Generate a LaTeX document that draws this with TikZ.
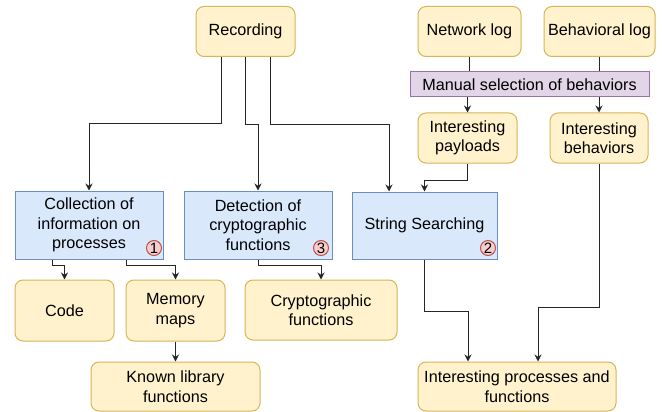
\documentclass[tikz,border=0pt]{standalone}
\usepackage{fontspec}
\setmainfont{Liberation Sans}
\usetikzlibrary{arrows.meta,calc}
\definecolor{yfill}{HTML}{FFF2CC}
\definecolor{ydraw}{HTML}{D6B656}
\definecolor{bfill}{HTML}{DAE8FC}
\definecolor{bdraw}{HTML}{6C8EBF}
\definecolor{pfill}{HTML}{E1D5E7}
\definecolor{pdraw}{HTML}{9673A6}
\definecolor{rfill}{HTML}{F8CECC}
\definecolor{rdraw}{HTML}{B85450}
\tikzset{
  every node/.style={font=\fontsize{16.2}{19.5}\selectfont, align=center, inner sep=0pt},
  ybox/.style={draw=ydraw, fill=yfill, rounded corners=8pt, line width=1pt},
  bbox/.style={draw=bdraw, fill=bfill, line width=1pt},
  pbox/.style={draw=pdraw, fill=pfill, line width=1pt},
  badge/.style={circle, draw=rdraw, fill=rfill, line width=1pt, minimum size=15pt, font=\fontsize{15}{15}\selectfont},
  arr/.style={-{Stealth[length=7pt,width=7pt]}, line width=1pt, draw=black!85},
  ln/.style={line width=1pt, draw=black!85}
}
\begin{document}
\begin{tikzpicture}[x=1pt,y=1pt]
\useasboundingbox (0,0) rectangle (662,-412);
% top nodes
\node[ybox, minimum width=99pt, minimum height=50pt] (rec) at (245.5,-31.5) {Recording};
\node[ybox, minimum width=103pt, minimum height=50pt] (net) at (469.5,-31.5) {Network log};
\node[ybox, minimum width=111pt, minimum height=50pt] (beh) at (599.5,-31.5) {Behavioral log};
\node[pbox, minimum width=239pt, minimum height=25pt] (man) at (529.5,-84.5) {Manual selection of behaviors};
\node[ybox, minimum width=99pt, minimum height=50pt] (pay) at (467.5,-138) {Interesting\\payloads};
\node[ybox, minimum width=98pt, minimum height=50pt] (ibeh) at (599,-138) {Interesting\\behaviors};
% process boxes
\node[bbox, minimum width=148pt, minimum height=68pt] (col) at (89,-225) {Collection of\\information on\\processes};
\node[bbox, minimum width=148pt, minimum height=68pt] (det) at (258,-225) {Detection of\\cryptographic\\functions};
\node[bbox, minimum width=145pt, minimum height=67pt] (str) at (424.5,-225.5) {String Searching};
\node[badge] (b1) at (154,-248) {1};
\node[badge] (b3) at (321,-248) {3};
\node[badge] (b2) at (488,-248) {2};
% results
\node[ybox, minimum width=99pt, minimum height=61pt] (code) at (64.5,-310.5) {Code};
\node[ybox, minimum width=99pt, minimum height=61pt] (mem) at (175.5,-310.5) {Memory\\maps};
\node[ybox, minimum width=152pt, minimum height=60pt] (cry) at (321,-310) {Cryptographic\\functions};
\node[ybox, minimum width=169pt, minimum height=49pt] (kno) at (175.5,-386.5) {Known library\\functions};
\node[ybox, minimum width=198pt, minimum height=49pt] (ipf) at (517,-386.5) {Interesting processes and\\functions};
% connectors
\draw[arr] ([xshift=-24.5pt]rec.south) -- ++(0,-67) -| (col.north);
\draw[arr] (rec.south) -- ++(0,-68) -| (det.north);
\draw[arr] ([xshift=24.5pt]rec.south) -- ++(0,-68) -| ([xshift=-35.5pt]str.north);
\draw[ln] (net.south) -- (net.south |- man.north);
\draw[ln] (beh.south) -- (beh.south |- man.north);
\draw[arr] (pay.north |- man.south) -- (pay.north);
\draw[arr] (ibeh.north |- man.south) -- (ibeh.north);
\draw[arr] (pay.south) -- ++(0,-17) -| (str.north);
\draw[arr] (str.south) -- ++(0,-52) -| ([xshift=-49pt]ipf.north);
\draw[arr] (ibeh.south) -- ++(0,-144) -| ([xshift=21pt]ipf.north);
\draw[arr] ([xshift=-37pt]col.south) -- ++(0,-6) -| (code.north);
\draw[arr] ([xshift=37pt]col.south) -- ++(0,-6) -| (mem.north);
\draw[arr] (mem.south) -- (kno.north);
\draw[arr] (det.south) -- ++(0,-6) -| (cry.north);
\end{tikzpicture}
\end{document}
